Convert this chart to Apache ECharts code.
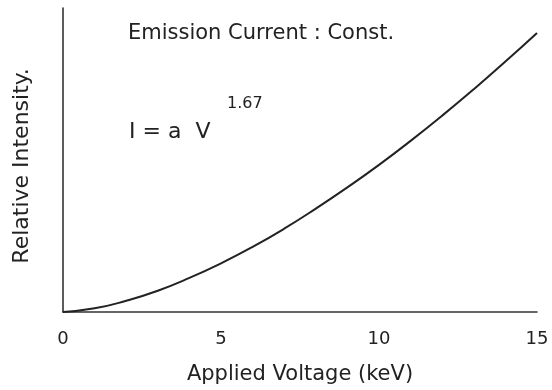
<!DOCTYPE html>
<html>
<head>
<meta charset="utf-8">
<script src="https://cdn.jsdelivr.net/npm/echarts@6/dist/echarts.min.js"></script>
<style>html,body{margin:0;padding:0;background:#fff}#c{width:552px;height:390px}</style>
</head>
<body>
<div id="c"></div>
<script>
var voltage = [0, 1, 2, 3, 4, 5, 6, 7, 8, 9, 10, 11, 12, 13, 14, 15];
var intensity = [0, 1.2, 3.7, 7.0, 11.2, 16.0, 21.4, 27.4, 34.0, 41.0, 48.4, 56.3, 64.6, 73.3, 82.4, 91.8];
var xTicks = [0, 5, 10, 15];

var FONT = '"DejaVu Sans", "Liberation Sans", sans-serif';
var TXT = '#222';
var chart = echarts.init(document.getElementById('c'), null, {renderer: 'canvas'});
chart.setOption({
  animation: false,
  backgroundColor: '#fff',
  grid: {left: 63, right: 15, top: 8, bottom: 77},
  xAxis: {
    type: 'value', min: 0, max: 15, interval: 5,
    name: 'Applied Voltage (keV)', nameLocation: 'middle', nameGap: 52,
    nameTextStyle: {fontFamily: FONT, fontSize: 21, color: TXT},
    axisLine: {lineStyle: {color: '#333', width: 1.6}},
    axisTick: {show: false},
    splitLine: {show: false},
    axisLabel: {fontFamily: FONT, fontSize: 18, color: TXT, margin: 18,
      formatter: function (v) { return xTicks.indexOf(v) >= 0 ? String(v) : ''; }}
  },
  yAxis: {
    type: 'value', min: 0, max: 100,
    axisLine: {show: true, lineStyle: {color: '#333', width: 1.6}},
    axisTick: {show: false},
    axisLabel: {show: false},
    splitLine: {show: false}
  },
  graphic: [
    {type: 'text', x: 22, y: 166, rotation: Math.PI / 2,
      style: {text: 'Relative Intensity.', font: '22px ' + FONT, fill: TXT, align: 'center', verticalAlign: 'middle'}},
    {type: 'text', left: 128, top: 23, style: {text: 'Emission Current : Const.', font: '21px ' + FONT, fill: TXT}},
    {type: 'text', left: 129, top: 121, style: {text: 'I = a  V', font: '22px ' + FONT, fill: TXT}},
    {type: 'text', left: 227, top: 96, style: {text: '1.67', font: '16px ' + FONT, fill: TXT}}
  ],
  series: [{
    type: 'line', smooth: true, showSymbol: false,
    data: voltage.map(function (v, i) { return [v, intensity[i]]; }),
    lineStyle: {color: '#222', width: 2}
  }]
});
</script>
</body>
</html>
